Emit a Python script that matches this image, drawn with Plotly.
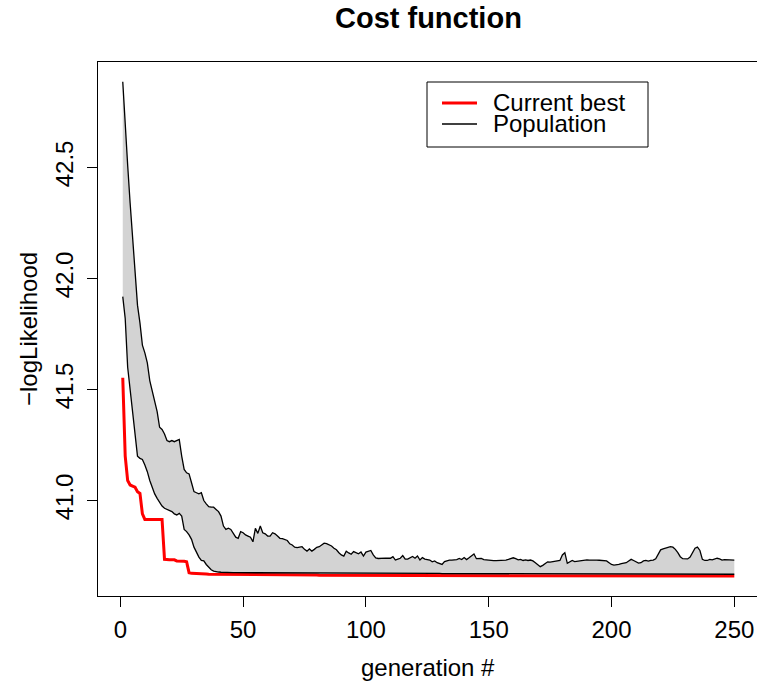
import plotly.graph_objects as go

# ---- data ----
generation = list(range(1, 251))

population_max = [
    42.886, 42.68, 42.51, 42.34, 42.19, 42.02, 41.88, 41.80, 41.70, 41.665,
    41.62, 41.54, 41.49, 41.44, 41.40, 41.33, 41.32, 41.30, 41.27, 41.265,
    41.27, 41.265, 41.27, 41.275, 41.20, 41.14, 41.125, 41.12, 41.08, 41.04,
    41.035, 41.03, 41.035, 41.00, 40.985, 40.972, 40.97, 40.97, 40.96, 40.95,
    40.93, 40.885, 40.87, 40.875, 40.87, 40.852, 40.835, 40.83, 40.86, 40.855,
    40.845, 40.84, 40.835, 40.814, 40.875, 40.852, 40.885, 40.855, 40.85, 40.84,
    40.84, 40.855, 40.85, 40.84, 40.83, 40.828, 40.825, 40.82, 40.805, 40.80,
    40.79, 40.788, 40.79, 40.792, 40.78, 40.772, 40.782, 40.772, 40.78, 40.789,
    40.792, 40.80, 40.808, 40.806, 40.80, 40.795, 40.785, 40.778, 40.765, 40.755,
    40.75, 40.772, 40.764, 40.758, 40.77, 40.766, 40.76, 40.768, 40.75, 40.768,
    40.772, 40.775, 40.755, 40.742, 40.739, 40.74, 40.742, 40.741, 40.74, 40.74,
    40.747, 40.732, 40.736, 40.74, 40.752, 40.736, 40.736, 40.742, 40.748, 40.74,
    40.75, 40.732, 40.743, 40.736, 40.734, 40.732, 40.724, 40.728, 40.72, 40.716,
    40.712, 40.725, 40.729, 40.732, 40.732, 40.733, 40.734, 40.739, 40.734, 40.743,
    40.734, 40.742, 40.752, 40.759, 40.738, 40.739, 40.739, 40.734, 40.732, 40.73,
    40.729, 40.729, 40.729, 40.73, 40.729, 40.729, 40.732, 40.735, 40.74, 40.742,
    40.738, 40.733, 40.735, 40.73, 40.733, 40.73, 40.732, 40.728, 40.72, 40.71,
    40.702, 40.708, 40.718, 40.724, 40.723, 40.725, 40.728, 40.73, 40.73, 40.755,
    40.765, 40.717, 40.725, 40.73, 40.725, 40.727, 40.73, 40.732, 40.732, 40.733,
    40.732, 40.733, 40.732, 40.732, 40.731, 40.73, 40.729, 40.728, 40.72, 40.712,
    40.709, 40.709, 40.712, 40.716, 40.718, 40.72, 40.728, 40.735, 40.73, 40.722,
    40.718, 40.72, 40.728, 40.73, 40.727, 40.73, 40.732, 40.738, 40.76, 40.778,
    40.782, 40.785, 40.79, 40.792, 40.79, 40.78, 40.765, 40.747, 40.738, 40.736,
    40.737, 40.745, 40.765, 40.785, 40.79, 40.775, 40.735, 40.73, 40.73, 40.735,
    40.733, 40.737, 40.74, 40.737, 40.732, 40.734, 40.733, 40.732, 40.733, 40.732,
]

population_min = [
    41.918, 41.82, 41.60, 41.50, 41.42, 41.32, 41.20, 41.19, 41.185, 41.16,
    41.13, 41.09, 41.055, 41.03, 41.01, 40.99, 40.975, 40.965, 40.96, 40.955,
    40.95, 40.94, 40.935, 40.942, 40.93, 40.87, 40.86, 40.845, 40.825, 40.79,
    40.765, 40.745, 40.73, 40.728, 40.712, 40.70, 40.688, 40.682, 40.679, 40.678,
    40.677, 40.676, 40.676, 40.676, 40.675, 40.675, 40.675, 40.675, 40.675, 40.675,
    40.674, 40.674, 40.674, 40.674, 40.674, 40.674, 40.674, 40.674, 40.674, 40.674,
    40.674, 40.674, 40.674, 40.674, 40.674, 40.674, 40.674, 40.674, 40.674, 40.674,
    40.673, 40.673, 40.673, 40.673, 40.673, 40.673, 40.673, 40.673, 40.673, 40.673,
    40.673, 40.673, 40.673, 40.673, 40.673, 40.673, 40.673, 40.673, 40.673, 40.673,
    40.673, 40.673, 40.673, 40.673, 40.673, 40.673, 40.673, 40.673, 40.673, 40.673,
    40.672, 40.672, 40.672, 40.672, 40.672, 40.672, 40.672, 40.672, 40.672, 40.672,
    40.672, 40.672, 40.672, 40.672, 40.672, 40.672, 40.672, 40.672, 40.672, 40.672,
    40.672, 40.672, 40.672, 40.672, 40.672, 40.672, 40.672, 40.672, 40.672, 40.672,
    40.671, 40.671, 40.671, 40.671, 40.671, 40.671, 40.671, 40.671, 40.671, 40.671,
    40.671, 40.671, 40.671, 40.671, 40.671, 40.671, 40.671, 40.671, 40.671, 40.671,
    40.671, 40.671, 40.671, 40.671, 40.671, 40.671, 40.671, 40.671, 40.671, 40.671,
    40.670, 40.670, 40.670, 40.670, 40.670, 40.670, 40.670, 40.670, 40.670, 40.670,
    40.670, 40.670, 40.670, 40.670, 40.670, 40.670, 40.670, 40.670, 40.670, 40.670,
    40.670, 40.670, 40.670, 40.670, 40.670, 40.670, 40.670, 40.670, 40.670, 40.670,
    40.669, 40.669, 40.669, 40.669, 40.669, 40.669, 40.669, 40.669, 40.669, 40.669,
    40.669, 40.669, 40.669, 40.669, 40.669, 40.669, 40.669, 40.669, 40.669, 40.669,
    40.669, 40.669, 40.669, 40.669, 40.669, 40.669, 40.669, 40.669, 40.669, 40.669,
    40.668, 40.668, 40.668, 40.668, 40.668, 40.668, 40.668, 40.668, 40.668, 40.668,
    40.668, 40.668, 40.668, 40.668, 40.668, 40.668, 40.668, 40.668, 40.668, 40.668,
    40.668, 40.668, 40.668, 40.668, 40.668, 40.668, 40.668, 40.668, 40.668, 40.668,
]

current_best = [
    41.553, 41.20, 41.09, 41.07, 41.065, 41.06, 41.04, 41.032, 40.94, 40.915,
    40.915, 40.915, 40.915, 40.915, 40.915, 40.915, 40.915, 40.735, 40.733, 40.733,
    40.733, 40.733, 40.728, 40.728, 40.728, 40.726, 40.724, 40.675, 40.672, 40.672,
    40.672, 40.672, 40.671, 40.670, 40.669, 40.668, 40.668, 40.668, 40.668, 40.668,
    40.667, 40.667, 40.667, 40.667, 40.667, 40.666, 40.666, 40.666, 40.666, 40.666,
    40.665, 40.665, 40.665, 40.665, 40.665, 40.665, 40.665, 40.665, 40.665, 40.665,
    40.665, 40.665, 40.665, 40.665, 40.665, 40.665, 40.665, 40.665, 40.665, 40.665,
    40.665, 40.665, 40.665, 40.665, 40.665, 40.665, 40.665, 40.665, 40.665, 40.665,
    40.663, 40.663, 40.663, 40.663, 40.663, 40.663, 40.663, 40.663, 40.663, 40.663,
    40.663, 40.663, 40.663, 40.663, 40.663, 40.663, 40.663, 40.663, 40.663, 40.663,
    40.663, 40.663, 40.663, 40.663, 40.663, 40.663, 40.663, 40.663, 40.663, 40.663,
    40.663, 40.663, 40.663, 40.663, 40.663, 40.663, 40.663, 40.663, 40.663, 40.663,
    40.663, 40.663, 40.663, 40.663, 40.663, 40.663, 40.663, 40.663, 40.663, 40.663,
    40.663, 40.663, 40.663, 40.663, 40.663, 40.663, 40.663, 40.663, 40.663, 40.663,
    40.663, 40.663, 40.663, 40.663, 40.663, 40.660, 40.660, 40.660, 40.660, 40.660,
    40.660, 40.660, 40.660, 40.660, 40.660, 40.660, 40.660, 40.660, 40.660, 40.660,
    40.660, 40.660, 40.660, 40.660, 40.660, 40.660, 40.660, 40.660, 40.660, 40.660,
    40.660, 40.660, 40.660, 40.660, 40.660, 40.660, 40.660, 40.660, 40.660, 40.660,
    40.660, 40.660, 40.660, 40.660, 40.660, 40.660, 40.660, 40.660, 40.660, 40.660,
    40.660, 40.660, 40.660, 40.660, 40.660, 40.660, 40.660, 40.660, 40.660, 40.660,
    40.660, 40.660, 40.660, 40.660, 40.660, 40.660, 40.660, 40.660, 40.660, 40.660,
    40.660, 40.660, 40.660, 40.660, 40.660, 40.660, 40.660, 40.660, 40.660, 40.660,
    40.660, 40.660, 40.660, 40.660, 40.660, 40.660, 40.660, 40.660, 40.660, 40.660,
    40.660, 40.660, 40.660, 40.660, 40.660, 40.660, 40.660, 40.660, 40.660, 40.660,
    40.660, 40.660, 40.660, 40.660, 40.660, 40.660, 40.660, 40.660, 40.660, 40.660,
]

x_ticks = [0, 50, 100, 150, 200, 250]
y_ticks = [41.0, 41.5, 42.0, 42.5]
y_tick_labels = ["41.0", "41.5", "42.0", "42.5"]

title_text = "Cost function"
x_title = "generation #"
y_title = "\u2212logLikelihood"
legend_labels = ["Current best", "Population"]

FONT = "Liberation Sans, Arial, Helvetica, sans-serif"
FS = 24

PLOT_L, PLOT_T, PLOT_B = 98, 62, 596   # plot-area edges in window pixels
PLOT_W = 757 - PLOT_L
PLOT_H = PLOT_B - PLOT_T

fig = go.Figure()
fig.add_trace(go.Scatter(x=generation, y=current_best, mode="lines",
                         line=dict(color="#FF0000", width=3), name=legend_labels[0]))
fig.add_trace(go.Scatter(x=generation, y=population_min, mode="lines",
                         line=dict(color="black", width=1.3), name=legend_labels[1]))
fig.add_trace(go.Scatter(x=generation, y=population_max, mode="lines", fill="tonexty",
                         fillcolor="#D3D3D3",
                         line=dict(color="black", width=1.3), name=legend_labels[1]))

fig.update_layout(
    width=757, height=684,
    margin=dict(l=PLOT_L, r=0, t=PLOT_T, b=684 - PLOT_B, autoexpand=False),
    paper_bgcolor="white", plot_bgcolor="white",
    showlegend=False,
    font=dict(family=FONT, size=FS, color="black"),
)
fig.update_xaxes(
    automargin=False,
    range=[-9.08, 259.24], tickvals=x_ticks, ticks="outside", ticklen=10,
    tickwidth=1, tickcolor="black", showline=True, linecolor="black",
    linewidth=1, mirror=True, showgrid=False, zeroline=False,
    ticklabelstandoff=2,
    tickfont=dict(family=FONT, size=FS, color="black"),
)
fig.update_yaxes(
    automargin=False,
    range=[40.570, 42.975], tickvals=y_ticks, ticktext=y_tick_labels,
    tickangle=-90, ticks="outside", ticklen=10, tickwidth=1, tickcolor="black",
    showline=True, linecolor="black", linewidth=1, mirror=False,
    showgrid=False, zeroline=False, ticklabelstandoff=4,
    tickfont=dict(family=FONT, size=FS, color="black"),
)

def px_x(p):
    return (p - PLOT_L) / PLOT_W

def px_y(p):
    return (PLOT_B - p) / PLOT_H

# titles
fig.add_annotation(text="<b>" + title_text + "</b>", xref="paper", yref="paper",
                   x=px_x(428), y=px_y(18), xanchor="center", yanchor="middle",
                   showarrow=False, font=dict(family=FONT, size=29, color="black"))
fig.add_annotation(text=x_title, xref="paper", yref="paper",
                   x=px_x(428), y=px_y(668), xanchor="center", yanchor="middle",
                   showarrow=False, font=dict(family=FONT, size=FS, color="black"))
fig.add_annotation(text=y_title, xref="paper", yref="paper", textangle=-90,
                   x=px_x(28), y=0.5, xanchor="center", yanchor="middle",
                   showarrow=False, font=dict(family=FONT, size=FS, color="black"))

# legend (drawn manually to match R's compact legend)
fig.add_shape(type="rect", xref="paper", yref="paper",
              x0=px_x(427), x1=px_x(648), y0=px_y(147), y1=px_y(82),
              line=dict(color="black", width=1), fillcolor="white")
fig.add_shape(type="line", xref="paper", yref="paper",
              x0=px_x(442), x1=px_x(477), y0=px_y(103), y1=px_y(103),
              line=dict(color="#FF0000", width=3))
fig.add_shape(type="line", xref="paper", yref="paper",
              x0=px_x(442), x1=px_x(477), y0=px_y(124), y1=px_y(124),
              line=dict(color="black", width=1.3))
fig.add_annotation(text=legend_labels[0], xref="paper", yref="paper",
                   x=px_x(491), y=px_y(103), xanchor="left", yanchor="middle",
                   showarrow=False, font=dict(family=FONT, size=FS, color="black"))
fig.add_annotation(text=legend_labels[1], xref="paper", yref="paper",
                   x=px_x(491), y=px_y(124), xanchor="left", yanchor="middle",
                   showarrow=False, font=dict(family=FONT, size=FS, color="black"))

# remove the default page margin so the figure fills the window exactly
fig.write_html(
    "out.html",
    config={"displayModeBar": False},
    post_script="document.body.style.margin='0';document.body.style.overflow='hidden';",
)
